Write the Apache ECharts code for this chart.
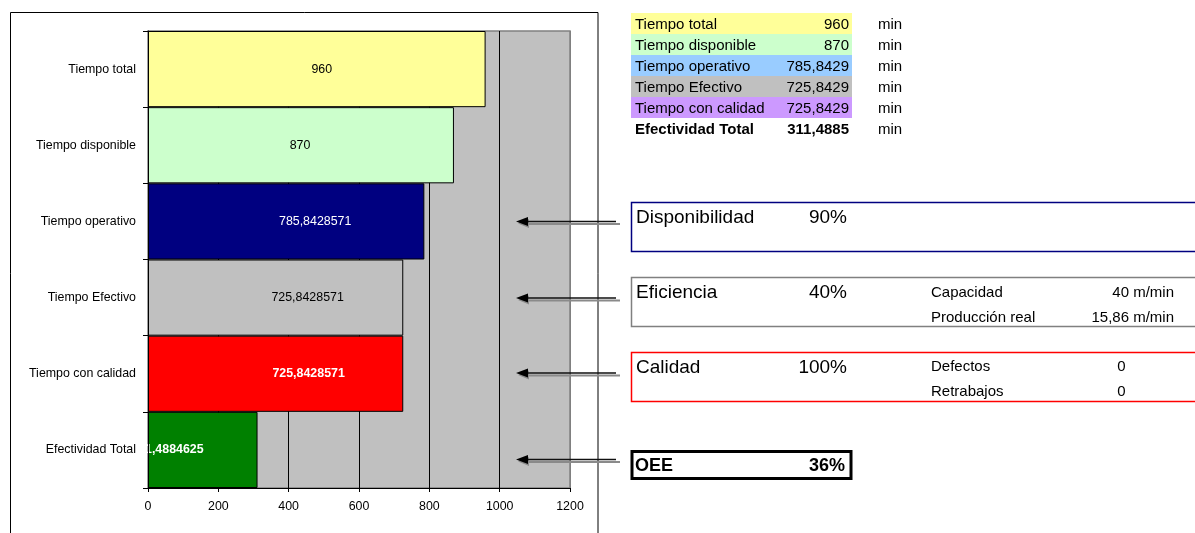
<!DOCTYPE html>
<html>
<head>
<meta charset="utf-8">
<title>Efectividad Total (OEE)</title>
<script src="https://cdn.jsdelivr.net/npm/echarts@6/dist/echarts.min.js"></script>
<style>
  html, body { margin: 0; padding: 0; background: #fff; }
  #chart { width: 1195px; height: 533px; }
</style>
</head>
<body>
<div id="chart"></div>
<script>
// ---- data ----
const categories = ['Tiempo total', 'Tiempo disponible', 'Tiempo operativo', 'Tiempo Efectivo', 'Tiempo con calidad', 'Efectividad Total'];
const tiempos = [960, 870, 785.8428571, 725.8428571, 725.8428571, 311.4884625];
const unidad = 'min';
const xMin = 0, xMax = 1200, xStep = 200;

const indicadorNombres = ['Disponibilidad', 'Eficiencia', 'Calidad'];
const indicadorPct = [90, 40, 100];
const eficienciaNombres = ['Capacidad', 'Producción real'];
const eficienciaValores = ['40 m/min', '15,86 m/min'];
const calidadNombres = ['Defectos', 'Retrabajos'];
const calidadValores = [0, 0];
const oeePct = 36;

// ---- styles ----
const FONT = 'Liberation Sans, Arial, Helvetica, sans-serif';
const barColors = ['#FFFF99', '#CCFFCC', '#000080', '#C0C0C0', '#FF0000', '#008000'];
const barLabelColors = ['#000', '#000', '#fff', '#000', '#fff', '#fff'];
const barLabelWeights = ['normal', 'normal', 'normal', 'normal', 'bold', 'bold'];
const barLabelShift = [5, -1, 29, 32, 33, -35];
const tablaColors = ['#FFFF99', '#CCFFCC', '#99CCFF', '#C0C0C0', '#CC99FF', null];

const comma = v => String(v).replace('.', ',');
const fmtTabla = v => Number.isInteger(v) ? String(v) : v.toFixed(4).replace('.', ',');

const chart = echarts.init(document.getElementById('chart'), null, { renderer: 'canvas' });

// outer frame of the chart object
const graphics = [];
graphics.push({
  type: 'rect', silent: true, z: 0,
  shape: { x: 10.5, y: 12.5, width: 587.5, height: 600 },
  style: { fill: 'none', stroke: '#000', lineWidth: 1 }
});

// summary table (top right)
categories.forEach((name, i) => {
  const top = 13 + 21 * i;
  const bold = i === categories.length - 1;
  if (tablaColors[i]) {
    graphics.push({ type: 'rect', silent: true, z: 1,
      shape: { x: 631, y: top, width: 221, height: 21 }, style: { fill: tablaColors[i] } });
  }
  const base = { fontFamily: FONT, fontSize: 15, fill: '#000', fontWeight: bold ? 'bold' : 'normal', verticalAlign: 'middle' };
  graphics.push({ type: 'text', silent: true, z: 2, x: 635, y: top + 12,
    style: Object.assign({ text: name, align: 'left' }, base) });
  graphics.push({ type: 'text', silent: true, z: 2, x: 849, y: top + 12,
    style: Object.assign({ text: fmtTabla(tiempos[i]), align: 'right' }, base) });
  graphics.push({ type: 'text', silent: true, z: 2, x: 878, y: top + 12,
    style: Object.assign({}, base, { text: unidad, align: 'left', fontWeight: 'normal' }) });
});

// indicator boxes
const boxTops = [202.5, 277.5, 352.5];
const boxColors = ['#000080', '#808080', '#FF0000'];
indicadorNombres.forEach((name, i) => {
  const top = boxTops[i];
  graphics.push({ type: 'rect', silent: true, z: 1,
    shape: { x: 631.5, y: top, width: 600, height: 49 },
    style: { fill: '#fff', stroke: boxColors[i], lineWidth: 1.5 } });
  const base = { fontFamily: FONT, fontSize: 19, fill: '#000', verticalAlign: 'middle' };
  graphics.push({ type: 'text', silent: true, z: 2, x: 636, y: top + 15.5,
    style: Object.assign({ text: name, align: 'left' }, base) });
  graphics.push({ type: 'text', silent: true, z: 2, x: 847, y: top + 15.5,
    style: Object.assign({ text: indicadorPct[i] + '%', align: 'right' }, base) });
});
const detail = { fontFamily: FONT, fontSize: 15, fill: '#000', verticalAlign: 'middle' };
eficienciaNombres.forEach((n, j) => {
  const y = 293 + 25 * j;
  graphics.push({ type: 'text', silent: true, z: 2, x: 931, y: y, style: Object.assign({ text: n, align: 'left' }, detail) });
  graphics.push({ type: 'text', silent: true, z: 2, x: 1174, y: y, style: Object.assign({ text: eficienciaValores[j], align: 'right' }, detail) });
});
calidadNombres.forEach((n, j) => {
  const y = 366.5 + 25.5 * j;
  graphics.push({ type: 'text', silent: true, z: 2, x: 931, y: y, style: Object.assign({ text: n, align: 'left' }, detail) });
  graphics.push({ type: 'text', silent: true, z: 2, x: 1121.5, y: y, style: Object.assign({ text: String(calidadValores[j]), align: 'center' }, detail) });
});

// OEE box
graphics.push({ type: 'rect', silent: true, z: 1,
  shape: { x: 632, y: 451.5, width: 219, height: 27 },
  style: { fill: '#fff', stroke: '#000', lineWidth: 3 } });
graphics.push({ type: 'text', silent: true, z: 2, x: 635, y: 466,
  style: { text: 'OEE', align: 'left', verticalAlign: 'middle', fontFamily: FONT, fontSize: 18, fontWeight: 'bold', fill: '#000' } });
graphics.push({ type: 'text', silent: true, z: 2, x: 845, y: 466,
  style: { text: oeePct + '%', align: 'right', verticalAlign: 'middle', fontFamily: FONT, fontSize: 18, fontWeight: 'bold', fill: '#000' } });

// connector arrows pointing back into the plot
[221.5, 298, 373, 459.5].forEach(y => {
  graphics.push({ type: 'line', silent: true, z: 20,
    shape: { x1: 526, y1: y + 2.5, x2: 620, y2: y + 2.5 }, style: { stroke: '#8a8a8a', lineWidth: 2 } });
  graphics.push({ type: 'polygon', silent: true, z: 20,
    shape: { points: [[518, y + 2], [529, y - 2.5], [529, y + 6.5]] }, style: { fill: '#8a8a8a' } });
  graphics.push({ type: 'line', silent: true, z: 21,
    shape: { x1: 522, y1: y, x2: 616, y2: y }, style: { stroke: '#111', lineWidth: 1.3 } });
  graphics.push({ type: 'polygon', silent: true, z: 21,
    shape: { points: [[516, y], [528, y - 4.5], [528, y + 4.5]] }, style: { fill: '#000' } });
});

const splitColors = [];
for (let v = xMin; v <= xMax; v += xStep) splitColors.push(v === xMax ? '#808080' : '#000');

chart.setOption({
  animation: false,
  backgroundColor: '#fff',
  textStyle: { fontFamily: FONT },
  grid: {
    left: 148, right: 625, top: 31, bottom: 45,
    show: true, backgroundColor: '#C0C0C0', borderColor: '#808080', borderWidth: 1.5
  },
  xAxis: {
    type: 'value', min: xMin, max: xMax, interval: xStep,
    axisLine: { show: true, lineStyle: { color: '#000', width: 1 } },
    axisTick: { show: true, inside: false, length: 4, lineStyle: { color: '#000' } },
    axisLabel: { color: '#000', fontSize: 12.4, fontFamily: FONT, margin: 13, formatter: v => String(v) },
    splitLine: { show: true, lineStyle: { color: splitColors, width: 1 } }
  },
  yAxis: {
    type: 'category', inverse: true, data: categories, z: 5,
    axisLine: { show: true, lineStyle: { color: '#000', width: 1 } },
    axisTick: { show: true, inside: false, length: 5, alignWithLabel: false, lineStyle: { color: '#000' } },
    axisLabel: { color: '#000', fontSize: 12.4, fontFamily: FONT, margin: 12 },
    splitLine: { show: false }
  },
  series: [{
    type: 'bar',
    barCategoryGap: '0%',
    z: 2,
    itemStyle: { borderColor: '#000', borderWidth: 1 },
    data: tiempos.map((v, i) => ({
      value: v,
      itemStyle: { color: barColors[i] },
      label: {
        show: true, position: 'inside', offset: [barLabelShift[i], 0],
        color: barLabelColors[i], fontWeight: barLabelWeights[i],
        fontSize: 12.4, fontFamily: FONT,
        formatter: p => comma(p.value)
      }
    }))
  }],
  graphic: { elements: graphics }
});
</script>
</body>
</html>
